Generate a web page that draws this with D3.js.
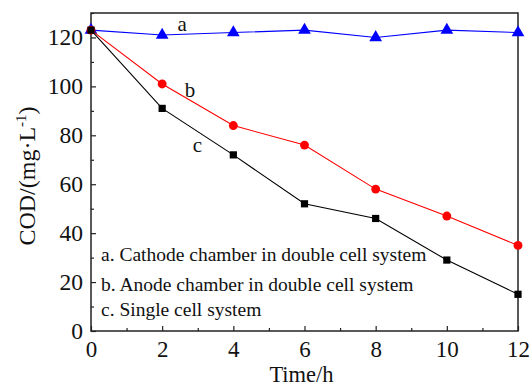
<!DOCTYPE html>
<html>
<head>
<meta charset="utf-8">
<script src="https://cdn.jsdelivr.net/npm/d3@7"></script>
<style>
  body { margin: 0; background: #fff; }
  svg text { font-family: "Liberation Serif", "DejaVu Serif", serif; }
</style>
</head>
<body>
<svg id="chart"></svg>
<script>
// data
var hours = [0, 2, 4, 6, 8, 10, 12];
var codA = [123, 121, 122, 123, 120, 123, 122];   // cathode chamber, double cell
var codB = [123, 101, 84, 76, 58, 47, 35];        // anode chamber, double cell
var codC = [123, 91, 72, 52, 46, 29, 15];         // single cell
var xTicks = [0, 2, 4, 6, 8, 10, 12];
var yTicks = [0, 20, 40, 60, 80, 100, 120];
var legendLines = [
  "a. Cathode chamber in double cell system",
  "b. Anode chamber in double cell system",
  "c. Single cell system"
];

var W = 530, H = 387;
var margin = {top: 13, right: 12, bottom: 56, left: 91};
var width = W - margin.left - margin.right,
    height = H - margin.top - margin.bottom;

var svg = d3.select("#chart").attr("width", W).attr("height", H);
var g = svg.append("g")
    .attr("transform", "translate(" + margin.left + "," + margin.top + ")");

var x = d3.scaleLinear().domain([0, 12]).range([0, width]);
var y = d3.scaleLinear().domain([0, 130]).range([height, 0]);

// frame
g.append("rect")
    .attr("width", width).attr("height", height)
    .attr("fill", "none").attr("stroke", "#222").attr("stroke-width", 1.5);

// minor ticks
g.append("g")
    .attr("transform", "translate(0," + height + ")")
    .call(d3.axisBottom(x).tickValues(d3.range(1, 12, 2)).tickSize(-3).tickFormat(""))
    .call(function(a) { a.select(".domain").remove(); });
g.append("g")
    .call(d3.axisLeft(y).tickValues(d3.range(10, 131, 20)).tickSize(-3).tickFormat(""))
    .call(function(a) { a.select(".domain").remove(); });

// major ticks
var xAxis = g.append("g")
    .attr("transform", "translate(0," + height + ")")
    .call(d3.axisBottom(x).tickValues(xTicks).tickSizeInner(-5).tickSizeOuter(0).tickPadding(9));
var yAxis = g.append("g")
    .call(d3.axisLeft(y).tickValues(yTicks).tickSizeInner(-5).tickSizeOuter(0).tickPadding(8));

[xAxis, yAxis].forEach(function(a) {
  a.select(".domain").remove();
  a.attr("font-family", null).attr("font-size", null);
  a.selectAll("text").attr("font-size", 23.5).attr("fill", "#111");
});
xAxis.selectAll("text").attr("font-size", 23).attr("dy", "0.72em");
g.selectAll(".tick line").attr("stroke", "#222").attr("stroke-width", 1.2);

// series
var series = [
  {vals: codA, color: "#0000ff", symbol: d3.symbolTriangle, size: 70},
  {vals: codB, color: "#ff0000", symbol: d3.symbolCircle, size: 62},
  {vals: codC, color: "#000000", symbol: d3.symbolSquare, size: 52}
];

var line = d3.line()
    .x(function(d, i) { return x(hours[i]); })
    .y(function(d) { return y(d); });

series.forEach(function(s) {
  g.append("path")
      .datum(s.vals)
      .attr("fill", "none")
      .attr("stroke", s.color)
      .attr("stroke-width", 1.1)
      .attr("d", line);
  g.selectAll(null)
      .data(s.vals)
      .join("path")
      .attr("transform", function(d, i) { return "translate(" + x(hours[i]) + "," + y(d) + ")"; })
      .attr("d", d3.symbol().type(s.symbol).size(s.size))
      .attr("fill", s.color);
});

// curve labels
var curveLabels = [
  {t: "a", h: 2.56, v: 125.5},
  {t: "b", h: 2.78, v: 98.5},
  {t: "c", h: 2.99, v: 76}
];
g.selectAll(null)
    .data(curveLabels)
    .join("text")
    .attr("x", function(d) { return x(d.h); })
    .attr("y", function(d) { return y(d.v); })
    .attr("dy", "0.32em")
    .attr("text-anchor", "middle")
    .attr("font-size", 21)
    .attr("fill", "#111")
    .text(function(d) { return d.t; });

// legend text
var legendY = [261, 291, 316];
svg.selectAll(null)
    .data(legendLines)
    .join("text")
    .attr("x", 101)
    .attr("y", function(d, i) { return legendY[i]; })
    .attr("font-size", 19.5)
    .attr("fill", "#111")
    .text(function(d) { return d; });

// axis titles
svg.append("text")
    .attr("x", margin.left + width / 2 - 3)
    .attr("y", 382)
    .attr("text-anchor", "middle")
    .attr("font-size", 22.5)
    .attr("fill", "#111")
    .text("Time/h");

var yt = svg.append("text")
    .attr("transform", "translate(35,176) rotate(-90)")
    .attr("text-anchor", "middle")
    .attr("font-size", 24)
    .attr("fill", "#111");
yt.append("tspan").text("COD/(mg·L");
yt.append("tspan").attr("dy", -9).attr("font-size", 15).text("-1");
yt.append("tspan").attr("dy", 9).text(")");
</script>
</body>
</html>
